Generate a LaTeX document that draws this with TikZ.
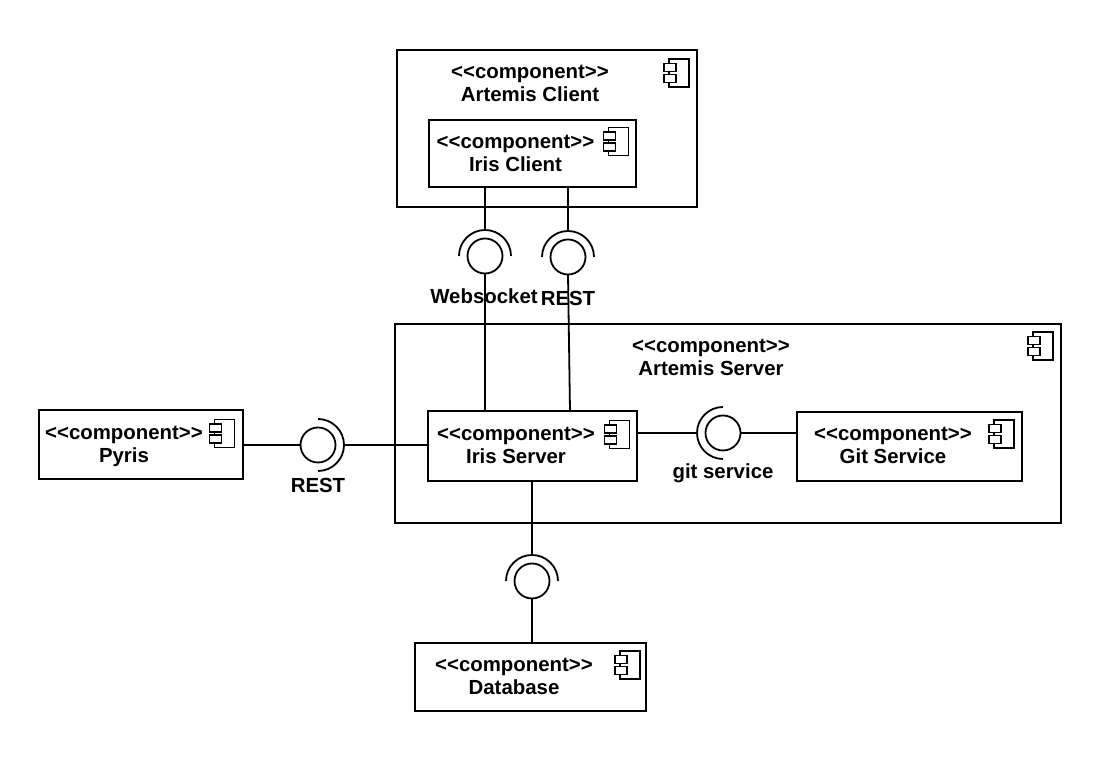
\documentclass[tikz,border=0pt]{standalone}
\usepackage{fontspec}
\setmainfont{Liberation Sans}
\usetikzlibrary{calc}
\newcommand{\stereotype}{<\kern0pt<component>\kern0pt>}
\tikzset{
  compbox/.style={draw,line width=2.2pt,rectangle,inner sep=0pt,outer sep=0pt},
  complabel/.style={align=center,inner sep=0pt,font=\fontsize{20.4}{23.5}\selectfont\bfseries},
  ifacelabel/.style={inner sep=0pt,font=\fontsize{20.4}{23.5}\selectfont\bfseries},
  ball/.style={draw,line width=1.8pt,circle,minimum size=35pt,inner sep=0pt,outer sep=0pt},
  conn/.style={line width=1.8pt},
  compicon/.pic={
    \draw[line width=1.3pt] (-10,-14) rectangle (10,14);
    \draw[line width=1.3pt,fill=white] (-15,1.5) rectangle (-3,9.5);
    \draw[line width=1.3pt,fill=white] (-15,-9.5) rectangle (-3,-1.5);
  }
}
\begin{document}
\begin{tikzpicture}[x=1pt,y=1pt]
  \useasboundingbox (0,0) rectangle (1112,762);
  % components
  \node[compbox,minimum width=300pt,minimum height=157pt] (artemisclient) at (547,633.5) {};
  \node[compbox,minimum width=207pt,minimum height=67pt] (irisclient) at (532.5,608.5) {};
  \node[compbox,minimum width=666pt,minimum height=199pt] (artemisserver) at (728,338.5) {};
  \node[compbox,minimum width=209pt,minimum height=70pt] (irisserver) at (532.5,316) {};
  \node[compbox,minimum width=225pt,minimum height=69pt] (gitservice) at (909.5,315.5) {};
  \node[compbox,minimum width=204pt,minimum height=69pt] (pyris) at (141,317.5) {};
  \node[compbox,minimum width=231pt,minimum height=68pt] (database) at (530.5,85) {};
  % names
  \node[complabel] (artemisclientname) at (530,678.5) {\stereotype\\Artemis Client};
  \node[complabel] (irisclientname) at (515.5,608.5) {\stereotype\\Iris Client};
  \node[complabel] (artemisservername) at (711,404.5) {\stereotype\\Artemis Server};
  \node[complabel] (irisservername) at (516,316.5) {\stereotype\\Iris Server};
  \node[complabel] (gitservicename) at (893,316.5) {\stereotype\\Git Service};
  \node[complabel] (pyrisname) at (124,315.5) {\stereotype\\Pyris};
  \node[complabel] (databasename) at (514,85.5) {\stereotype\\Database};
  % icons
  \pic at (679,689) {compicon};
  \pic at (618.5,620.5) {compicon};
  \pic at (1043,416) {compicon};
  \pic at (619.5,327.5) {compicon};
  \pic at (1004,328) {compicon};
  \pic at (224.5,328.5) {compicon};
  \pic at (630,97) {compicon};
  % lollipops
  \node[ball] (wsball) at (485,506) {};
  \node[ball] (restball) at (568,505) {};
  \node[ball] (pyrisball) at (318,317) {};
  \node[ball] (gitball) at (723,329) {};
  \node[ball] (dbball) at (532,181) {};
  \draw[conn] ([xshift=26pt]wsball.center) arc (0:180:26pt);
  \draw[conn] ([xshift=26pt]restball.center) arc (0:180:26pt);
  \draw[conn] ([yshift=-26pt]pyrisball.center) arc (-90:90:26pt);
  \draw[conn] ([yshift=26pt]gitball.center) arc (90:270:26pt);
  \draw[conn] ([xshift=26pt]dbball.center) arc (0:180:26pt);
  \coordinate (wstop) at ([yshift=26pt]wsball.center);
  \coordinate (resttop) at ([yshift=26pt]restball.center);
  \coordinate (pyrisright) at ([xshift=26pt]pyrisball.center);
  \coordinate (gitleft) at ([xshift=-26pt]gitball.center);
  \coordinate (dbtop) at ([yshift=26pt]dbball.center);
  % connectors
  \draw[conn] (irisclient.south -| wsball) -- (wstop);
  \draw[conn] (wsball.south) -- (irisserver.north -| wsball);
  \draw[conn] (irisclient.south -| restball) -- (resttop);
  \draw[conn] (restball.south) -- ($(irisserver.north -| restball)+(2,0)$);
  \draw[conn] (pyris.east |- pyrisball) -- (pyrisball.west);
  \draw[conn] (pyrisright) -- (irisserver.west |- pyrisright);
  \draw[conn] (irisserver.east |- gitball) -- (gitleft);
  \draw[conn] (gitball.east) -- (gitservice.west |- gitball);
  \draw[conn] (irisserver.south -| dbball) -- (dbtop);
  \draw[conn] (dbball.south) -- (database.north -| dbball);
  % interface labels
  \node[ifacelabel] (wslabel) at (484,466) {Websocket};
  \node[ifacelabel] (restlabel) at (568,464) {REST};
  \node[ifacelabel] (pyrislabel) at (318,277) {REST};
  \node[ifacelabel] (gitlabel) at (723,289) {git service};
\end{tikzpicture}
\end{document}
